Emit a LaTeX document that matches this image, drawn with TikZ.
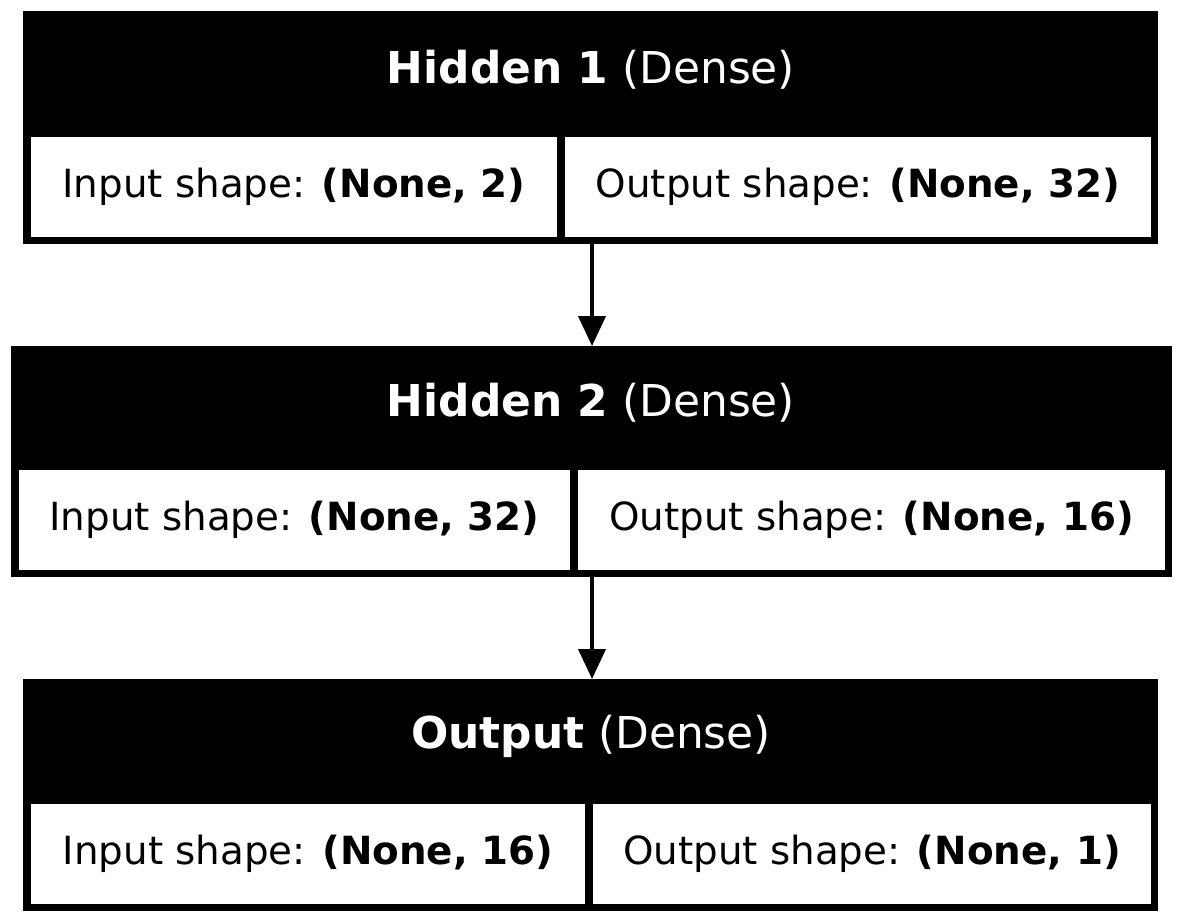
\documentclass[tikz,border=0pt]{standalone}
\usepackage{fontspec}
\setmainfont{DejaVu Sans}
\usetikzlibrary{arrows.meta}
\begin{document}
\begin{tikzpicture}[x=1pt,y=-1pt,
  layerbox/.style={fill=black,draw=none,inner sep=0pt,outer sep=0pt},
  cellbox/.style={fill=white,draw=none,inner sep=0pt,outer sep=0pt,minimum height=100pt,
    font=\fontsize{38.8}{46}\selectfont,text=black},
  headtext/.style={inner sep=0pt,text=white,font=\fontsize{43.9}{52}\selectfont},
  flow/.style={line width=4pt,-{Triangle[width=27pt,length=30pt]}}]
\useasboundingbox (0,0) rectangle (1183,922);
\fill[white] (0,0) rectangle (1183,922);
% Layer 1
\node[layerbox,minimum width=1135pt,minimum height=233pt] (L1) at (590.5,127.5) {};
\node[headtext] (H1) at (591,70) {\textbf{Hidden 1} (Dense)};
\node[cellbox,minimum width=526pt] (I1) at (294,187) {Input shape: \textbf{(None, 2)}};
\node[cellbox,minimum width=586pt] (O1) at (858,187) {Output shape: \textbf{(None, 32)}};
% Layer 2
\node[layerbox,minimum width=1161pt,minimum height=231pt] (L2) at (591.5,461.5) {};
\node[headtext] (H2) at (591,403) {\textbf{Hidden 2} (Dense)};
\node[cellbox,minimum width=551pt] (I2) at (294.5,520) {Input shape: \textbf{(None, 32)}};
\node[cellbox,minimum width=587pt] (O2) at (871.5,520) {Output shape: \textbf{(None, 16)}};
% Layer 3
\node[layerbox,minimum width=1135pt,minimum height=232pt] (L3) at (590.5,795) {};
\node[headtext] (H3) at (591,736) {\textbf{Output} (Dense)};
\node[cellbox,minimum width=554pt] (I3) at (308,854) {Input shape: \textbf{(None, 16)}};
\node[cellbox,minimum width=558pt] (O3) at (872,854) {Output shape: \textbf{(None, 1)}};
% Connectors
\draw[flow] (L1.south -| 592,0) -- (L2.north -| 592,0);
\draw[flow] (L2.south -| 592,0) -- (L3.north -| 592,0);
\end{tikzpicture}
\end{document}
